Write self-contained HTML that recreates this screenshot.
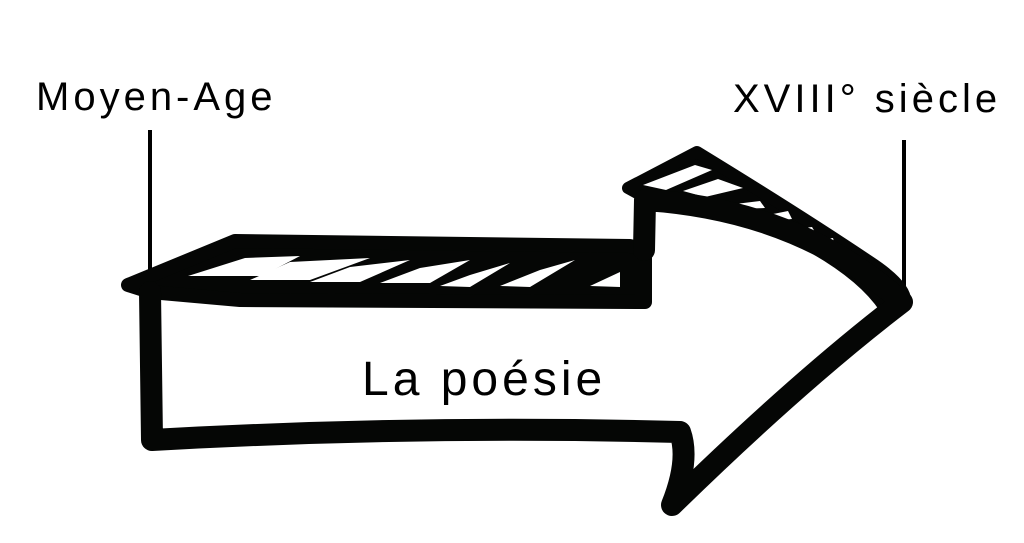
<!DOCTYPE html>
<html><head><meta charset="utf-8"><style>
html,body{margin:0;padding:0;background:#fff;width:1024px;height:543px;overflow:hidden}
svg{display:block}
text{font-family:"Liberation Sans","DejaVu Sans",sans-serif;fill:#000}
</style></head><body>
<svg width="1024" height="543" viewBox="0 0 1024 543">
<text x="36" y="110" font-size="40" letter-spacing="4">Moyen-Age</text>
<text x="733" y="112" font-size="40" letter-spacing="4">XVIII° siècle</text>
<line x1="150" y1="130" x2="150" y2="285" stroke="#000" stroke-width="4"/>
<line x1="904" y1="140" x2="904" y2="292" stroke="#000" stroke-width="4"/>
<!-- body top band -->
<polygon points="128,285 235,241 630,246 645,250 645,302 240,300 150,292" fill="#050605" stroke="#050605" stroke-width="14" stroke-linejoin="round"/>
<g fill="#fff">
<polygon points="188,276 245,258 300,256 262,276"/>
<polygon points="250,280 290,262 370,258 310,280"/>
<polygon points="310,282 350,267 410,260 360,282"/>
<polygon points="380,283 420,268 470,260 430,283"/>
<polygon points="440,286 470,275 510,263 470,287"/>
<polygon points="500,286 540,270 575,260 530,287"/>
<polygon points="590,286 620,272 620,287"/>
</g>
<!-- arrowhead top band -->
<path d="M628,188 L697,152 Q800,215 870,262 Q905,285 905,300 L885,308 Q860,270 790,235 Q720,205 650,200 Z" fill="#050605" stroke="#050605" stroke-width="12" stroke-linejoin="round"/>
<g fill="#fff">
<polygon points="643,185 695,165 712,170 666,190"/>
<polygon points="683,191 718,179 743,188 705,197"/>
<polygon points="727,205 760,201 765,208 733,209"/>
<polygon points="753,218 788,211 792,219 760,222"/>
<polygon points="780,231 812,227 815,232 787,233"/>
<polygon points="803,243 833,238 835,246 815,247"/>
<polygon points="858,268 885,292 872,268"/>
</g>
<!-- outline -->
<path d="M150,292 L152,440 Q420,425 680,432 Q690,460 672,505 Q800,380 902,302 Q800,210 645,200 L644,250" fill="none" stroke="#050605" stroke-width="22" stroke-linejoin="round" stroke-linecap="round"/>
<text x="362" y="395" font-size="48" letter-spacing="4">La poésie</text>
</svg>
</body></html>
